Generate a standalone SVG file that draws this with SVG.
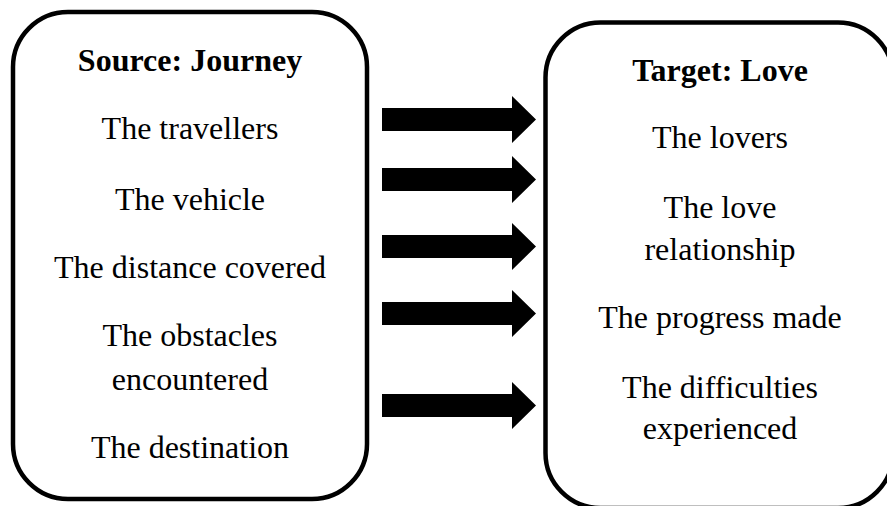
<svg xmlns="http://www.w3.org/2000/svg" width="887" height="506" viewBox="0 0 887 506">
<style>
.box{fill:#fff;stroke:#000;stroke-width:4.5}
.t{font-family:"Liberation Serif","Times New Roman",serif;font-size:32px;fill:#000;text-anchor:middle}
.b{font-weight:bold}
.arr{fill:#000}
</style>
<defs>
<polygon id="arrow" points="0,-11.5 130,-11.5 130,-23.5 154,0 130,23.5 130,11.5 0,11.5"/>
</defs>
<rect width="887" height="506" fill="#fff"/>
<g id="source">
<rect class="box" x="13" y="12" width="354" height="487" rx="55" ry="55"/>
<text class="t b" x="190" y="71">Source: Journey</text>
<text class="t" x="190" y="139">The travellers</text>
<text class="t" x="190" y="210">The vehicle</text>
<text class="t" x="190" y="278">The distance covered</text>
<text class="t" x="190" y="346">The obstacles</text>
<text class="t" x="190" y="390">encountered</text>
<text class="t" x="190" y="458">The destination</text>
</g>
<g id="target">
<rect class="box" x="545.5" y="22.5" width="347.5" height="485.5" rx="55" ry="55"/>
<text class="t b" x="720" y="81">Target: Love</text>
<text class="t" x="720" y="148">The lovers</text>
<text class="t" x="720" y="218">The love</text>
<text class="t" x="720" y="260">relationship</text>
<text class="t" x="720" y="328">The progress made</text>
<text class="t" x="720" y="398">The difficulties</text>
<text class="t" x="720" y="439">experienced</text>
</g>
<g id="connectors" class="arr">
<use href="#arrow" x="382" y="119.5"/>
<use href="#arrow" x="382" y="179.5"/>
<use href="#arrow" x="382" y="246.5"/>
<use href="#arrow" x="382" y="313.5"/>
<use href="#arrow" x="382" y="405.5"/>
</g>
</svg>
